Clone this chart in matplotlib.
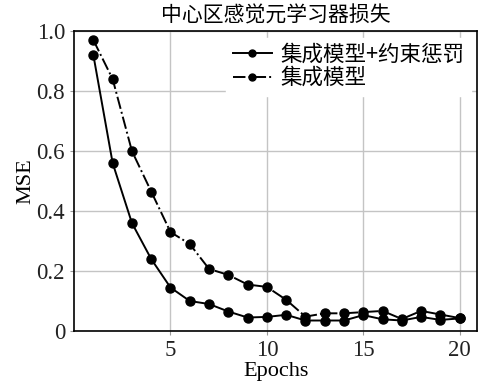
import matplotlib
matplotlib.use("Agg")
import matplotlib.pyplot as plt
from matplotlib.ticker import FuncFormatter

epochs = list(range(1, 21))
constrained = [0.92, 0.56, 0.36, 0.24, 0.145, 0.10, 0.09, 0.065, 0.045, 0.047,
               0.054, 0.035, 0.035, 0.035, 0.053, 0.039, 0.035, 0.047, 0.037, 0.042]
ensemble = [0.97, 0.84, 0.60, 0.465, 0.33, 0.29, 0.207, 0.187, 0.155, 0.147,
            0.104, 0.048, 0.059, 0.059, 0.063, 0.067, 0.04, 0.067, 0.055, 0.043]
labels = ["集成模型+约束惩罚", "集成模型"]
title = "中心区感觉元学习器损失"

cjk = ["Noto Sans CJK SC", "DejaVu Sans"]
serif = ["Liberation Serif", "DejaVu Serif"]

fig = plt.figure(figsize=(4.78, 3.84), dpi=100)
ax = fig.add_axes([0.155, 0.138, 0.843, 0.781])

ax.plot(epochs, constrained, color="black", linestyle="-", marker="o",
        markersize=6.5, linewidth=1.4, label=labels[0])
ax.plot(epochs, ensemble, color="black", linestyle="-.", marker="o",
        markersize=6.5, linewidth=1.4, label=labels[1])

ax.set_xlim(0, 20.9)
ax.set_ylim(0, 1.0)
ax.set_xticks([5, 10, 15, 20])
ax.set_yticks([0, 0.2, 0.4, 0.6, 0.8, 1.0])
ax.yaxis.set_major_formatter(FuncFormatter(lambda v, p: "0" if v == 0 else f"{v:.1f}"))
ax.grid(True, color="#c4c4c4", linewidth=1.0)
ax.set_axisbelow(True)
ax.tick_params(axis="both", colors="#999999", labelcolor="#222222", length=3,
               labelsize=16.5)
for lab in ax.get_xticklabels() + ax.get_yticklabels():
    lab.set_fontfamily(serif)
for s in ax.spines.values():
    s.set_color("black")
    s.set_linewidth(1.2)

ax.set_xlabel("Epochs", fontfamily=serif, fontsize=16, labelpad=1)
ax.set_ylabel("MSE", fontfamily=serif, fontsize=16, labelpad=1)
ax.set_title(title, fontfamily=cjk, fontsize=15, pad=7)

leg = ax.legend(loc="upper right", prop={"family": cjk, "size": 15.5},
                frameon=True, framealpha=1, edgecolor="white", fancybox=False,
                handlelength=1.8, borderpad=0.3, labelspacing=0.05,
                handletextpad=0.4, borderaxespad=0.3)
for h in leg.legend_handles:
    h.set_markersize(5)

fig.savefig("out.png", dpi=100)
